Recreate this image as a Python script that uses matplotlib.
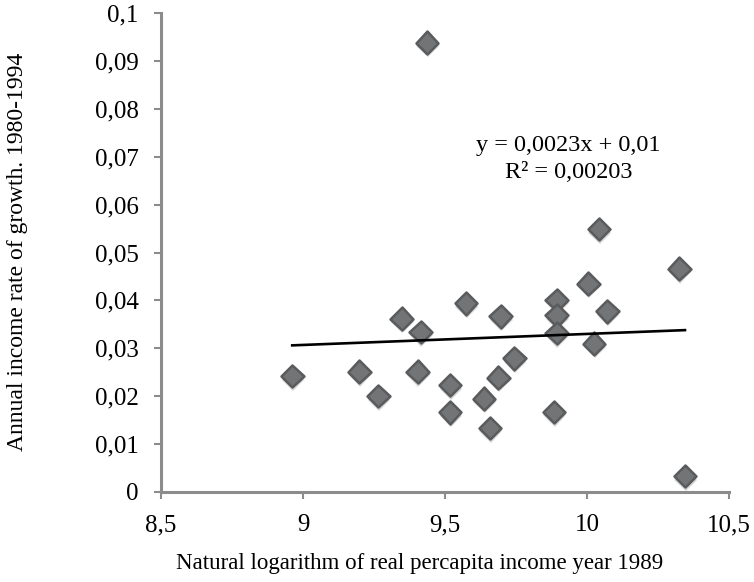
import matplotlib
matplotlib.use("Agg")
import matplotlib.pyplot as plt
import matplotlib.patheffects as pe
from matplotlib.markers import MarkerStyle
import numpy as np

# ---- data ----
log_income_1989 = [8.962, 9.436, 9.347, 9.414, 9.574, 9.696, 9.198, 9.265, 9.404,
                   9.518, 9.518, 9.744, 9.688, 9.637, 9.658, 10.042, 10.325, 10.005,
                   10.072, 9.893, 9.893, 9.893, 10.025, 9.884, 10.345]
growth_rate = [0.0242, 0.0938, 0.0362, 0.0334, 0.0394, 0.0367, 0.0251, 0.0200, 0.0251,
               0.0223, 0.0166, 0.0279, 0.0239, 0.0195, 0.0134, 0.0549, 0.0466, 0.0435,
               0.0377, 0.0401, 0.0369, 0.0332, 0.0310, 0.0167, 0.0033]

trend_slope = 0.0023
trend_intercept = 0.01
equation_text = "y = 0,0023x + 0,01"
r2_text = "R² = 0,00203"

x_ticks = [8.5, 9.0, 9.5, 10.0, 10.5]
x_tick_labels = ["8,5", "9", "9,5", "10", "10,5"]
y_ticks = [0.0, 0.01, 0.02, 0.03, 0.04, 0.05, 0.06, 0.07, 0.08, 0.09, 0.1]
y_tick_labels = ["0", "0,01", "0,02", "0,03", "0,04", "0,05", "0,06", "0,07", "0,08", "0,09", "0,1"]

x_label = "Natural logarithm of real percapita income year 1989"
y_label = "Annual income rate of growth. 1980-1994"

# ---- figure ----
plt.rcParams['font.family'] = ['Liberation Serif', 'DejaVu Serif']
fig = plt.figure(figsize=(7.54, 5.82), dpi=100)
ax = fig.add_axes([161 / 754, 1 - 492 / 582, (729 - 161) / 754, (492 - 13) / 582])

diamond = MarkerStyle('D', joinstyle='round')
ax.plot(log_income_1989, growth_rate, linestyle='none', marker=diamond, markersize=11.5,
        markerfacecolor='#737476', markeredgecolor='#5a5b5d', markeredgewidth=1.8,
        zorder=3,
        path_effects=[pe.SimplePatchShadow(offset=(0.5, -2.5), shadow_rgbFace='#9a9a9a', alpha=0.4),
                      pe.Normal()])

xs = np.array([min(log_income_1989), max(log_income_1989)])
ax.plot(xs, trend_slope * xs + trend_intercept, color='black', linewidth=1.9, zorder=4)

ax.text(9.935, 0.0723, equation_text, ha='center', va='center', fontsize=17.5)
ax.text(9.935, 0.0667, r2_text, ha='center', va='center', fontsize=17.5)

ax.set_xlim(8.5, 10.5)
ax.set_ylim(0, 0.1)
ax.set_xticks(x_ticks)
ax.set_xticklabels(x_tick_labels)
ax.set_yticks(y_ticks)
ax.set_yticklabels(y_tick_labels)

for s in ['top', 'right']:
    ax.spines[s].set_visible(False)
for s in ['left', 'bottom']:
    ax.spines[s].set_color('#8c8c8c')
    ax.spines[s].set_linewidth(2.2)
ax.tick_params(axis='both', colors='#8c8c8c', width=1.5, length=5, labelsize=18,
               labelcolor='black', direction='out')
ax.tick_params(axis='y', pad=11)
ax.tick_params(axis='x', pad=11)

fig.text(420 / 754, 1 - 563 / 582, x_label, ha='center', va='center', fontsize=16.5)
fig.text(18 / 754, 1 - 252 / 582, y_label, ha='center', va='center', fontsize=17, rotation=90)

fig.savefig("out.png", dpi=100)
